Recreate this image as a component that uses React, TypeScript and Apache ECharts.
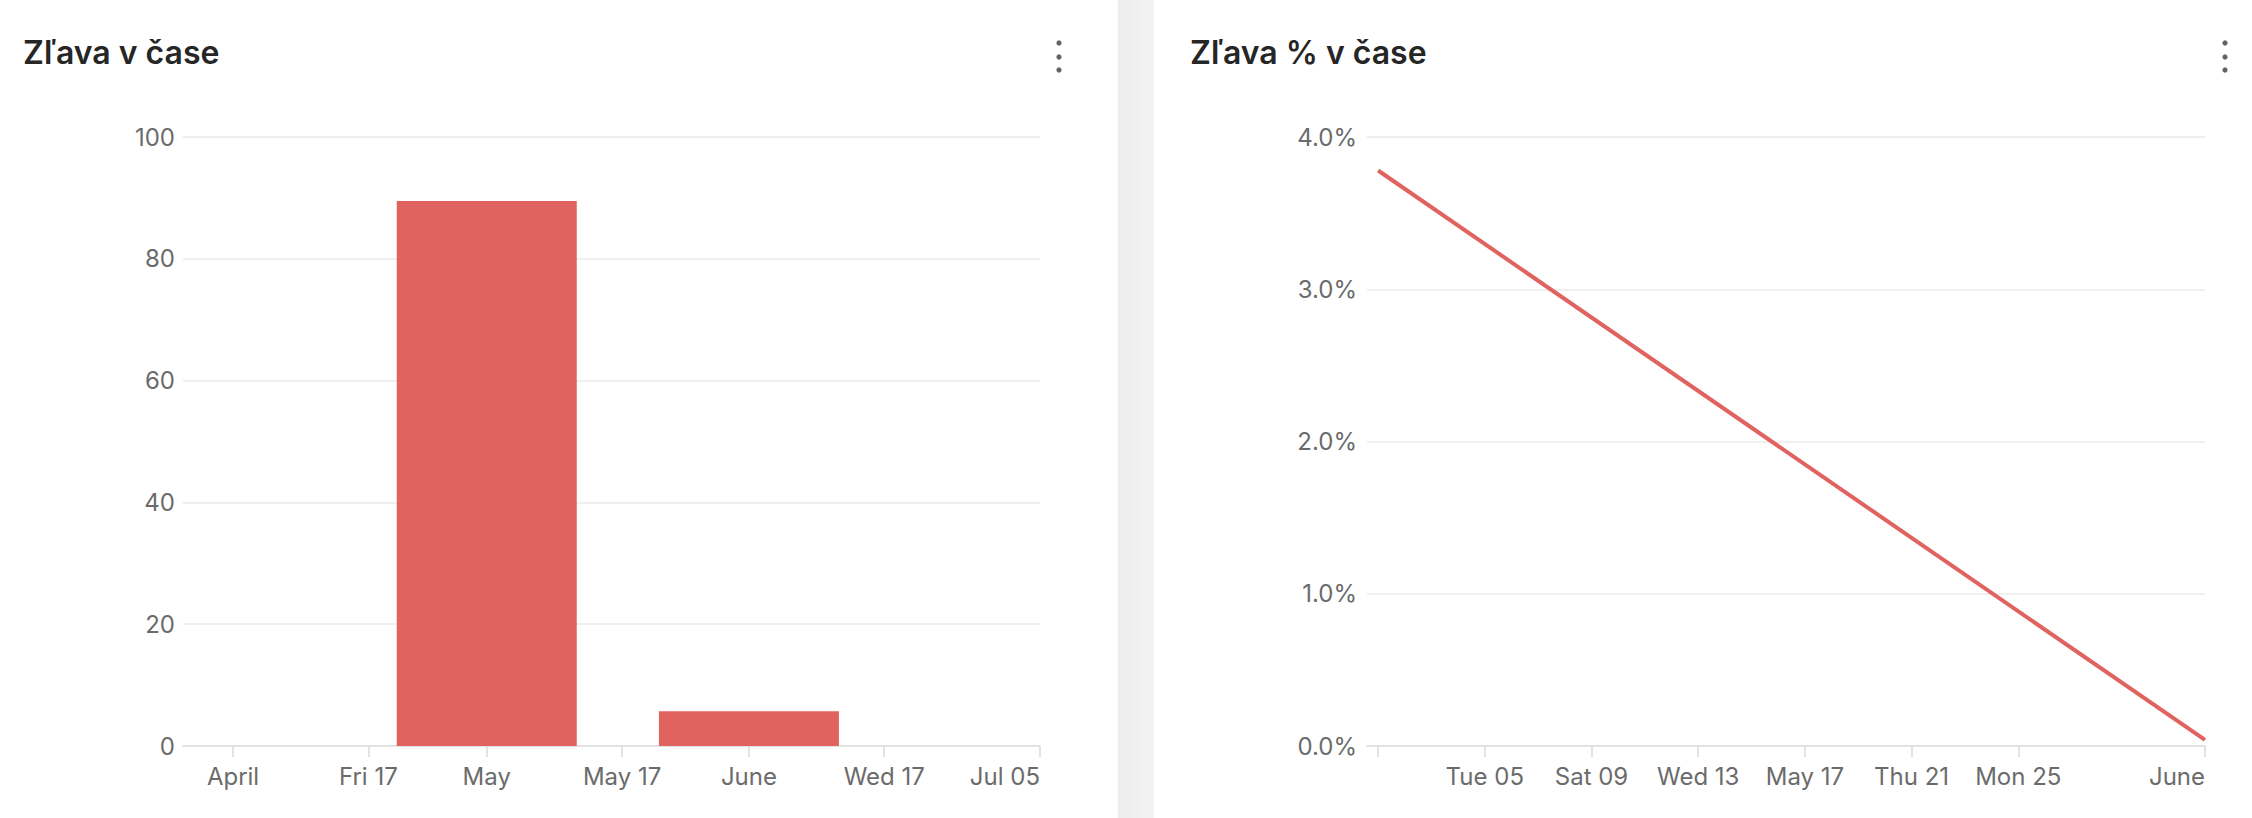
import React, { useEffect, useRef } from "react";
import * as echarts from "echarts";

// ---- data ----
const barDates = ["2020-04-01", "2020-05-01", "2020-06-01", "2020-07-01"];
const discountValues = [0, 89.5, 5.7, 0];

const pctDates = ["2020-05-01", "2020-06-01"];
const discountPct = [3.78, 0.04];

const leftTickDates = ["2020-04-01", "2020-04-17", "2020-05-01", "2020-05-17", "2020-06-01", "2020-06-17", "2020-07-05T10:00"];
const leftTickLabels = ["April", "Fri 17", "May", "May 17", "June", "Wed 17", "Jul 05"];

const rightTickDates = ["2020-05-01", "2020-05-05", "2020-05-09", "2020-05-13", "2020-05-17", "2020-05-21", "2020-05-25", "2020-06-01"];
const rightTickLabels = ["", "Tue 05", "Sat 09", "Wed 13", "May 17", "Thu 21", "Mon 25", "June"];

const leftTitle = "Zľava v čase";
const rightTitle = "Zľava % v čase";

const ts = (s: string) => Date.parse(s.length > 10 ? s + ":00Z" : s + "T00:00:00Z");

const RED = "#e0635f";
const LABEL = "#6b6b6b";
const FONT = "Inter, 'Noto Sans', sans-serif";

function makeLabelMap(dates: string[], labels: string[]) {
  const m: Record<number, string> = {};
  dates.forEach((d, i) => (m[ts(d)] = labels[i]));
  return m;
}

export default function App() {
  const ref = useRef<HTMLDivElement>(null);
  useEffect(() => {
    if (!ref.current) return;
    const chart = echarts.init(ref.current, null, { renderer: "svg" });
    const leftMap = makeLabelMap(leftTickDates, leftTickLabels);
    const rightMap = makeLabelMap(rightTickDates, rightTickLabels);
    const rightLabelDates = rightTickDates.filter((_, i) => rightTickLabels[i] !== "");

    const xCommon = (map: Record<number, string>, tickVals: number[], labelVals: number[]) => ({
      type: "value",
      axisLine: { show: true, onZero: false, lineStyle: { color: "#e2e2e2", width: 2 } },
      axisTick: { show: true, length: 11, lineStyle: { color: "#e2e2e2", width: 2 }, customValues: tickVals },
      axisLabel: {
        customValues: labelVals,
        formatter: (v: number) => map[v] ?? "",
        color: LABEL,
        fontSize: 24,
        fontFamily: FONT,
        margin: 18,
        alignMaxLabel: "right",
      },
      splitLine: { show: false },
    });

    const yCommon = {
      type: "value",
      axisLine: { show: false },
      axisTick: { show: false },
      splitLine: { show: true, lineStyle: { color: "#efefef", width: 2 } },
    };

    const dots = (cx: number) =>
      [43, 57, 70].map((cy) => ({
        type: "circle",
        shape: { cx, cy, r: 2.6 },
        style: { fill: "#5f6368" },
      }));

    chart.setOption({
      animation: false,
      backgroundColor: "#ffffff",
      graphic: [
        {
          type: "rect",
          shape: { x: 1118, y: 0, width: 36, height: 818 },
          style: {
            fill: new echarts.graphic.LinearGradient(0, 0, 1, 0, [
              { offset: 0, color: "#ececec" },
              { offset: 1, color: "#f4f4f4" },
            ]),
          },
          z: -1,
        },
        {
          type: "text",
          style: { x: 23, y: 52, text: leftTitle, font: `600 32px ${FONT}`, fill: "#262626", verticalAlign: "middle" },
        },
        {
          type: "text",
          style: { x: 1190, y: 52, text: rightTitle, font: `600 32px ${FONT}`, fill: "#262626", verticalAlign: "middle" },
        },
        ...dots(1059),
        ...dots(2225),
      ],
      grid: [
        { left: 183, right: 2252 - 1040, top: 137, bottom: 818 - 746, containLabel: false },
        { left: 1367, right: 2252 - 2205, top: 137, bottom: 818 - 746, containLabel: false },
      ],
      xAxis: [
        {
          gridIndex: 0,
          min: Date.UTC(2020, 2, 26, 2),
          max: ts("2020-07-05T10:00"),
          ...xCommon(leftMap, leftTickDates.map(ts), leftTickDates.map(ts)),
        },
        {
          gridIndex: 1,
          min: Date.UTC(2020, 3, 30, 14),
          max: ts("2020-06-01"),
          ...xCommon(rightMap, rightTickDates.map(ts), rightLabelDates.map(ts)),
        },
      ],
      yAxis: [
        {
          gridIndex: 0,
          min: 0,
          max: 100,
          interval: 20,
          ...yCommon,
          axisLabel: { color: LABEL, fontSize: 24, fontFamily: FONT, margin: 8 },
        },
        {
          gridIndex: 1,
          min: 0,
          max: 4,
          interval: 1,
          ...yCommon,
          axisLabel: {
            color: LABEL,
            fontSize: 24,
            fontFamily: FONT,
            margin: 10,
            formatter: (v: number) => v.toFixed(1) + "%",
          },
        },
      ],
      series: [
        {
          type: "bar",
          xAxisIndex: 0,
          yAxisIndex: 0,
          barWidth: 180,
          itemStyle: { color: RED },
          data: barDates.map((d, i) => [ts(d), discountValues[i]]),
        },
        {
          type: "line",
          xAxisIndex: 1,
          yAxisIndex: 1,
          symbol: "none",
          lineStyle: { color: RED, width: 4 },
          data: pctDates.map((d, i) => [ts(d), discountPct[i]]),
        },
      ],
    });
    return () => chart.dispose();
  }, []);
  return (
    <div
      ref={ref}
      style={{ position: "absolute", left: 0, top: 0, width: 2252, height: 818 }}
    />
  );
}
